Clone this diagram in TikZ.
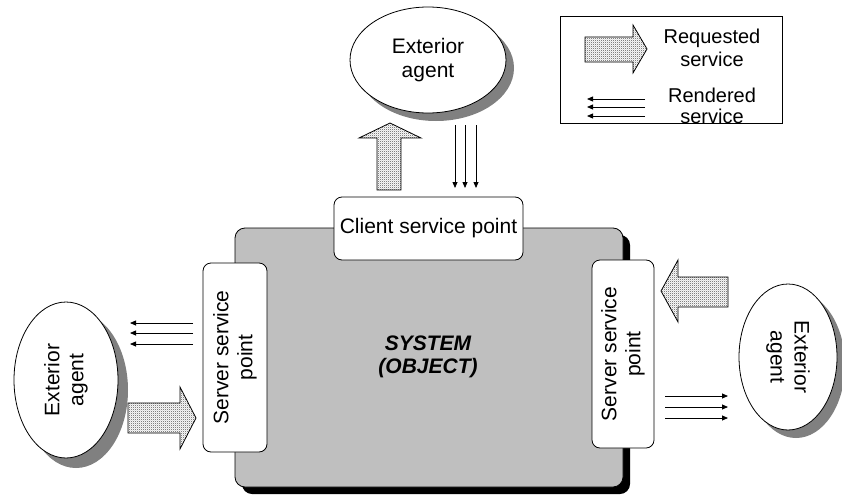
\documentclass[tikz,border=0pt]{standalone}
\usepackage{fontspec}
\setmainfont{Liberation Sans}
\usetikzlibrary{shapes.geometric,patterns,arrows.meta}

% fine stipple used inside the broad "requested service" arrows
\pgfdeclarepatternformonly{stipple}{\pgfqpoint{0pt}{0pt}}{\pgfqpoint{2.2pt}{2.2pt}}{\pgfqpoint{2.2pt}{2.2pt}}{%
  \pgfpathrectangle{\pgfqpoint{0pt}{0pt}}{\pgfqpoint{0.85pt}{0.85pt}}%
  \pgfpathrectangle{\pgfqpoint{1.1pt}{1.1pt}}{\pgfqpoint{0.85pt}{0.85pt}}%
  \pgfusepath{fill}}

\tikzset{
  agent/.style={ellipse, draw, fill=white, align=center, inner sep=0pt},
  agentshadow/.style={ellipse, fill=gray, draw=none, inner sep=0pt},
  svcpoint/.style={rectangle, draw, fill=white, rounded corners=8pt, align=center, inner sep=0pt},
  sysbox/.style={rectangle, draw, fill=black!25, rounded corners=10pt, inner sep=0pt,
    minimum width=388pt, minimum height=259pt},
  sysshadow/.style={rectangle, fill=black, rounded corners=10pt, inner sep=0pt,
    minimum width=388pt, minimum height=259pt},
  fatarrow/.style={draw, line width=0.8pt, fill=white, postaction={pattern=stipple, pattern color=black}},
  thin/.style={line width=0.8pt, -{Triangle[length=6pt,width=5pt]}},
}

\begin{document}
\begin{tikzpicture}[x=1pt, y=-1pt, line width=0.8pt,
  font=\fontsize{21}{24}\selectfont]
\useasboundingbox (0,0) rectangle (842,495);

% ---- the system with its shadow
\node[sysshadow] at (436,364.5) {};
\node[sysbox] (sys) at (429,357.5) {};
\node[font=\fontsize{21}{23}\selectfont\bfseries\itshape, align=center] (systxt) at (428,357) {SYSTEM\\(OBJECT)};

% ---- service points
\node[svcpoint, minimum width=189pt, minimum height=63pt] (csp) at (428.5,228.5) {Client service point};
\node[svcpoint, rotate=90, minimum width=189pt, minimum height=64pt] (sspl) at (235,357.5) {Server service\\point};
\node[svcpoint, rotate=90, minimum width=188pt, minimum height=62pt] (sspr) at (623,354) {Server service\\point};

% ---- exterior agents with shadows
\node[agentshadow, minimum width=156pt, minimum height=106pt] at (436,68) {};
\node[agent, minimum width=156pt, minimum height=106pt] (agtop) at (428,60) {Exterior\\agent};

\node[agentshadow, rotate=90, minimum width=156pt, minimum height=104pt] at (76,390) {};
\node[agent, rotate=90, minimum width=156pt, minimum height=104pt] (agleft) at (66,380) {Exterior\\agent};

\node[agentshadow, rotate=-90, minimum width=146pt, minimum height=98pt] at (796,365) {};
\node[agent, rotate=-90, minimum width=146pt, minimum height=98pt] (agright) at (788,357) {Exterior\\agent};

% ---- requested services (broad arrows)
\draw[fatarrow] (377,190) -- (377,138) -- (359,138) -- (390,123) -- (421,138) -- (401,138) -- (401,190) -- cycle;
\draw[fatarrow] (128,403) -- (180,403) -- (180,387) -- (196,418) -- (180,449) -- (180,433) -- (128,433) -- cycle;
\draw[fatarrow] (728,277) -- (678,277) -- (678,260) -- (661,291) -- (678,322) -- (678,307) -- (728,307) -- cycle;

% ---- rendered services (triple thin arrows)
\foreach \x [count=\i] in {455,465,476} {
  \coordinate (ts\i) at (\x,125); \coordinate (te\i) at (\x,188);
  \draw[thin] (ts\i) -- (te\i);
}
\foreach \y [count=\i] in {323,333,344} {
  \coordinate (ls\i) at (193,\y); \coordinate (le\i) at (130,\y);
  \draw[thin] (ls\i) -- (le\i);
}
\foreach \y [count=\i] in {396,407,418} {
  \coordinate (rs\i) at (665,\y); \coordinate (re\i) at (728,\y);
  \draw[thin] (rs\i) -- (re\i);
}

% ---- legend
\node[draw, rectangle, inner sep=0pt, minimum width=222pt, minimum height=107pt] (legend) at (671,69.5) {};
\draw[fatarrow] (585,37) -- (633,37) -- (633,25) -- (647,49) -- (633,73) -- (633,62) -- (585,62) -- cycle;
\node[align=center, font=\fontsize{20}{23}\selectfont] (lgreq) at (712,48) {Requested\\service};
\foreach \y [count=\i] in {99,107,116} {
  \coordinate (gs\i) at (645,\y); \coordinate (ge\i) at (587,\y);
  \draw[thin] (gs\i) -- (ge\i);
}
\node[align=center, font=\fontsize{20}{21}\selectfont] (lgren) at (712,106) {Rendered\\service};
\end{tikzpicture}
\end{document}
